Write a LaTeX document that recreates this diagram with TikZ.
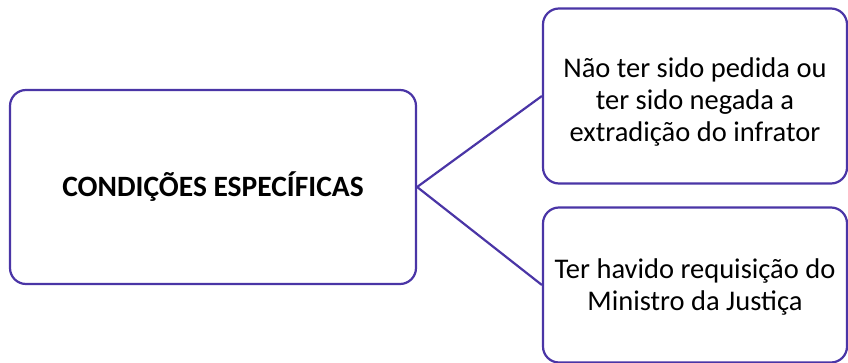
\documentclass[tikz,border=0pt]{standalone}
\usepackage{fontspec}
\setmainfont{Carlito}
\definecolor{edge}{HTML}{4A35A6}
\begin{document}
\begin{tikzpicture}[x=1pt,y=-1pt,
  box/.style={draw=edge,line width=2.2pt,rounded corners=16pt,fill=white,inner sep=0pt},
  txt/.style={align=center,inner sep=0pt,font=\fontsize{28.5}{32}\selectfont},
  link/.style={draw=edge,line width=2.2pt}]
\useasboundingbox (0,0) rectangle (848,363);
\node[box,minimum width=406pt,minimum height=194pt] (main) at (213,187) {};
\node[txt,font=\fontsize{29.5}{32}\selectfont\bfseries] (maintext) at (main.center) {CONDIÇÕES ESPECÍFICAS};
\node[box,minimum width=304pt,minimum height=175pt] (a) at (695,96) {};
\node[txt] (atext) at ([yshift=-6pt]a.center) {Não ter sido pedida ou\\ter sido negada a\\extradição do infrator};
\node[box,minimum width=304pt,minimum height=155pt] (b) at (695,285) {};
\node[txt] (btext) at ([yshift=-2pt]b.center) {Ter havido requisição do\\Ministro da Justiça};
\draw[link] (main.east) -- (a.west);
\draw[link] (main.east) -- (b.west);
\end{tikzpicture}
\end{document}
